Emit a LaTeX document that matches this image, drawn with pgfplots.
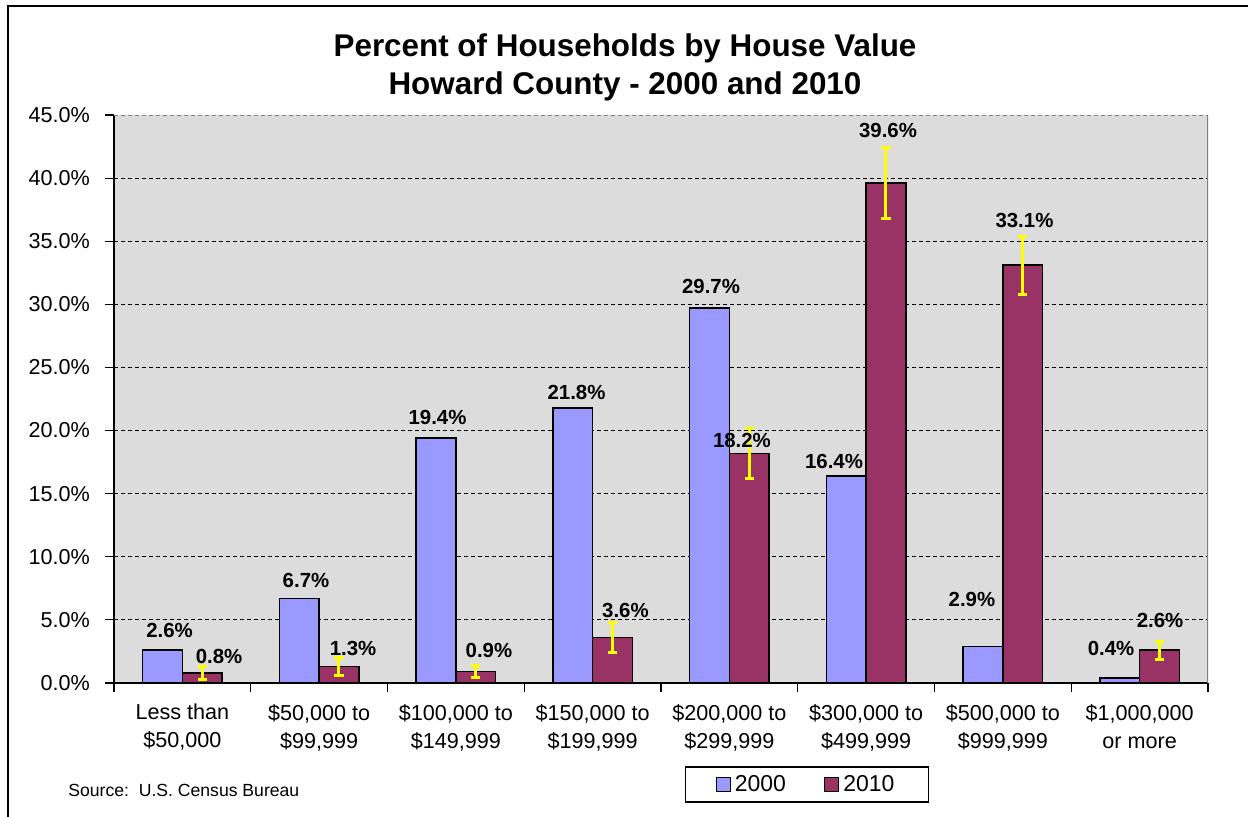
\documentclass[border=0pt]{standalone}
\usepackage{pgfplots}
\pgfplotsset{compat=1.18}
\usepackage{fontspec}
\setmainfont{Liberation Sans}
\definecolor{cA}{RGB}{153,153,255}
\definecolor{cB}{RGB}{153,51,102}
\definecolor{bgc}{RGB}{220,220,220}
\definecolor{ebar}{RGB}{255,255,0}
\begin{document}
\begin{tikzpicture}
\useasboundingbox (0,0) rectangle (624pt,408pt);
\draw[line width=1pt] (4pt,-2pt) -- (4pt,405pt) -- (630pt,405pt);
\node[anchor=base, font=\fontsize{15.7}{17.5}\selectfont\bfseries] at (312.5pt,379.5pt) {Percent of Households by House Value};
\node[anchor=base, font=\fontsize{15.7}{17.5}\selectfont\bfseries] at (312.5pt,360.5pt) {Howard County - 2000 and 2010};
\node[anchor=west, inner sep=0pt, font=\fontsize{8.8}{10}\selectfont] at (34pt,13pt) {Source:\ \ U.S. Census Bureau};
\begin{axis}[
  at={(57pt,66.5pt)}, anchor=south west,
  width=547pt, height=284pt, scale only axis,
  xmin=-0.5, xmax=7.5, ymin=0, ymax=45,
  axis x line*=bottom, axis y line*=left,
  axis line style={line width=0.8pt, black, -},
  axis background/.style={fill=bgc},
  /pgf/number format/assume math mode=true,
  tick align=outside,
  major tick length=4.5pt,
  tick style={black, line width=0.6pt},
  ytick={0,5,...,45},
  yticklabel={\pgfmathprintnumber[fixed,fixed zerofill,precision=1]{\tick}\%},
  yticklabel style={font=\fontsize{10.8}{13}\selectfont, xshift=-4pt},
  extra y ticks={5,10,...,40},
  extra y tick labels={},
  extra y tick style={grid=major, major grid style={black, dash pattern=on 2pt off 1.5pt, line width=0.55pt}},
  xtick={-0.5,0.5,...,7.5},
  x tick label as interval,
  xticklabels={{Less than\\\$50,000},{\$50,000 to\\\$99,999},{\$100,000 to\\\$149,999},{\$150,000 to\\\$199,999},{\$200,000 to\\\$299,999},{\$300,000 to\\\$499,999},{\$500,000 to\\\$999,999},{\$1,000,000\\or more}},
  xticklabel style={align=center, font=\fontsize{10.8}{14}\selectfont, yshift=-2.5pt},
  legend style={at={(0.6335,-0.1787)}, anchor=center, draw=black, line width=0.7pt,
    font=\fontsize{11.5}{13}\selectfont, legend columns=2, inner xsep=15pt, inner ysep=2pt,
    /tikz/every even column/.append style={column sep=17pt}},
  legend cell align=left,
  legend image code/.code={\draw[#1, line width=0.6pt] (0pt,-3.5pt) rectangle (7pt,3.5pt);},
]
\addplot[ybar, bar width=0.29, bar shift=-0.145, fill=cA, draw=black, line width=0.75pt, forget plot]
  table[x=x, y=y] {
x y
0 2.6
1 6.7
2 19.4
3 21.8
4 29.7
5 16.4
6 2.9
7 0.4
};
\addplot[ybar, bar width=0.29, bar shift=0.145, fill=cB, draw=black, line width=0.75pt, forget plot]
  table[x=x, y=y] {
x y
0 0.8
1 1.3
2 0.9
3 3.6
4 18.2
5 39.6
6 33.1
7 2.6
};
\addplot[draw=none, mark=none, forget plot,
  error bars/.cd, y dir=both, y explicit, error mark=|,
  error bar style={draw=ebar, line width=1.5pt},
  error mark options={draw=ebar, line width=1.5pt, mark size=2.3pt}]
  table[x=x, y=y, y error=e] {
x y e
0.145 0.8 0.5
1.145 1.3 0.7
2.145 0.9 0.5
3.145 3.6 1.2
4.145 18.2 2.0
5.145 39.6 2.8
6.145 33.1 2.3
7.145 2.6 0.7
};
\draw[gray, line width=0.8pt] (rel axis cs:1,0) -- (rel axis cs:1,1);
\draw[gray, line width=0.8pt, dash pattern=on 2pt off 1.5pt] (rel axis cs:0,1) -- (rel axis cs:1,1);
\addplot[draw=none, mark=none, forget plot, point meta=explicit symbolic,
  nodes near coords={\pgfplotspointmeta\%}, nodes near coords align={center},
  every node near coord/.append style={font=\fontsize{10.2}{12}\selectfont\bfseries, inner sep=0pt, anchor=center, text=black}]
  table[x=x, y=y, meta=l] {
x y l
-0.094 4.20 2.6
0.904 8.16 6.7
1.866 21.00 19.4
2.882 22.98 21.8
3.866 31.38 29.7
4.765 17.59 16.4
5.774 6.58 2.9
6.791 2.77 0.4
0.268 2.14 0.8
1.248 2.77 1.3
2.242 2.61 0.9
3.240 5.78 3.6
4.092 19.18 18.2
5.160 43.74 39.6
6.158 36.61 33.1
7.149 4.99 2.6
};
\addlegendimage{fill=cA, draw=black}
\addlegendentry{2000}
\addlegendimage{fill=cB, draw=black}
\addlegendentry{2010}
\end{axis}
\end{tikzpicture}
\end{document}
